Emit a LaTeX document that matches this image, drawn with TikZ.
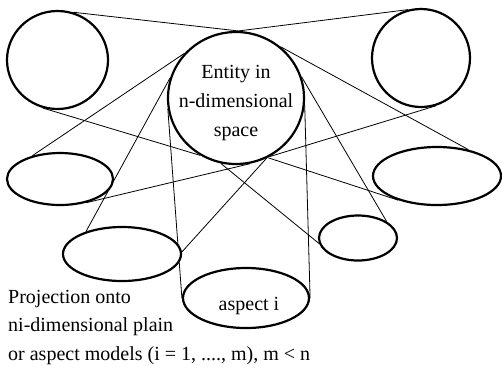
\documentclass[tikz,border=0pt]{standalone}
\usepackage{fontspec}
\setmainfont{Liberation Serif}
\usetikzlibrary{shapes.geometric,backgrounds}
\begin{document}
\begin{tikzpicture}[x=1pt,y=-1pt,
  shp/.style={ellipse,draw,line width=2.2pt,fill=white,inner sep=0pt},
  ln/.style={line width=0.8pt},
  txt/.style={font=\fontsize{20}{28.5}\selectfont,inner sep=0pt}]
\useasboundingbox (0,0) rectangle (502,376);
% shapes
\node[shp,minimum width=101pt,minimum height=98pt] (tl) at (57.5,60) {};
\node[shp,minimum width=98pt,minimum height=98pt] (tr) at (421,58) {};
\node[shp,minimum width=136pt,minimum height=132pt] (c) at (236,98) {};
\node[shp,minimum width=106pt,minimum height=52pt] (el) at (60,179) {};
\node[shp,minimum width=128pt,minimum height=58pt] (er) at (437,176) {};
\node[shp,minimum width=118pt,minimum height=54pt] (ell) at (122,254) {};
\node[shp,minimum width=78pt,minimum height=45pt] (es) at (358,238) {};
\node[shp,minimum width=126pt,minimum height=60pt] (ea) at (246,298) {};
% texts
\node[txt,align=center] (ct) at (236,103) {Entity in\\n-dimensional\\space};
\node[txt,anchor=base] (at) at (249,310) {aspect i};
\node[txt,anchor=base west] (p1) at (8,303) {Projection onto};
\node[txt,anchor=base west] (p2) at (8,331.5) {ni-dimensional plain};
\node[txt,anchor=base west] (p3) at (8,360) {or aspect models (i = 1, ...., m), m < n};
% connectors
\begin{scope}[on background layer]
\draw[ln] (tl.72) -- (c.88);
\draw[ln] (tr.105) -- (c.88);
\draw[ln] (tl.253) -- (c.238);
\draw[ln] (tr.287) -- (c.300);
\draw[ln] (el.140) -- (c.139);
\draw[ln] (el.-42) -- (c.282);
\draw[ln] (er.40) -- (c.49);
\draw[ln] (er.212) -- (c.298);
\draw[ln] (ell.148) -- (c.163);
\draw[ln] (ell.2) -- (c.297);
\draw[ln] (es.30) -- (c.18);
\draw[ln] (es.188) -- (c.257);
\draw[ln] (ea.180) -- (c.189);
\draw[ln] (ea.0) -- (c.354);
\end{scope}
\end{tikzpicture}
\end{document}
